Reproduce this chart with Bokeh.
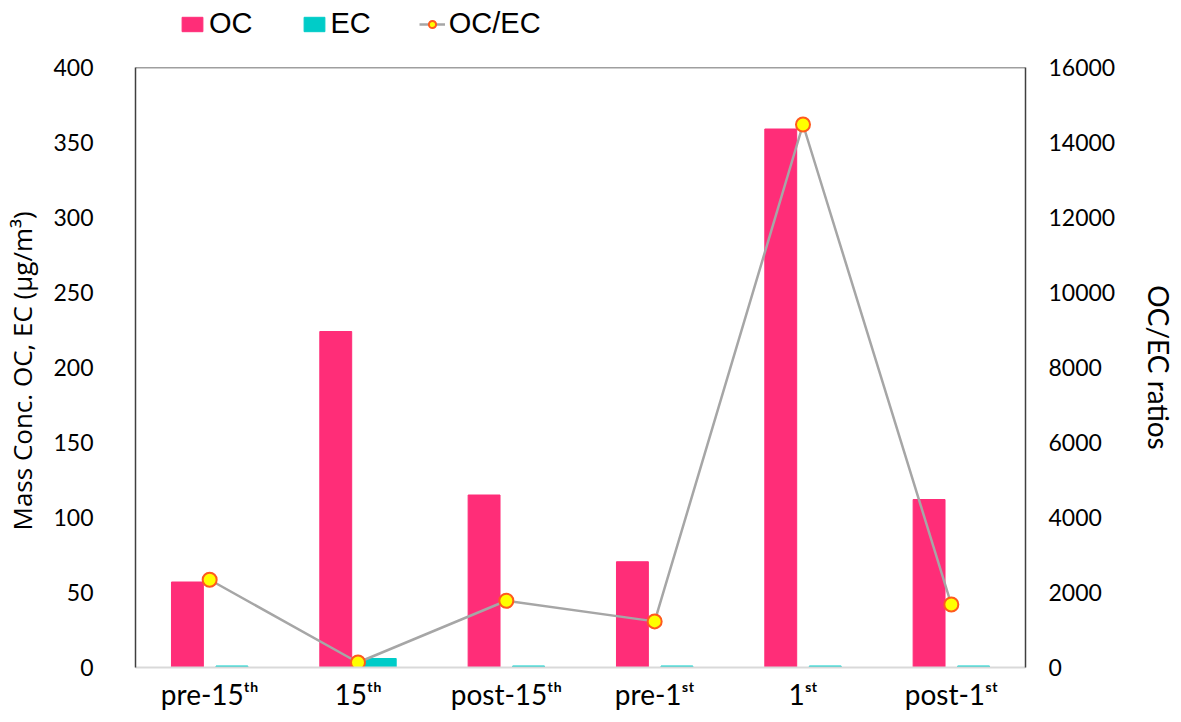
from bokeh.plotting import figure
from bokeh.layouts import column
from bokeh.models import (FactorRange, Range1d, LinearAxis, FixedTicker, Legend, LegendItem,
                          ColumnDataSource, Span)
from bokeh.transform import dodge
from bokeh.embed import file_html
from bokeh.resources import INLINE

categories = ["pre-15ᵗʰ", "15ᵗʰ", "post-15ᵗʰ", "pre-1ˢᵗ", "1ˢᵗ", "post-1ˢᵗ"]
oc_values = [57, 224, 115, 70.5, 359, 112]
ec_values = [1.0, 6.0, 1.0, 1.0, 1.0, 1.0]
ratio_values = [2340, 133, 1780, 1230, 14480, 1680]
left_ticks = [0, 50, 100, 150, 200, 250, 300, 350, 400]
right_ticks = [0, 2000, 4000, 6000, 8000, 10000, 12000, 14000, 16000]

src = ColumnDataSource(dict(cat=categories, oc=oc_values, ec=ec_values, ratio=ratio_values))

OC_COLOR = "#FF2D78"
EC_COLOR = "#00CCC8"
LINE_COLOR = "#A6A6A6"
MK_FILL = "#FFFF00"
MK_LINE = "#FF5A1E"

W = 1180
LEG_H = 45
FRAME_TOP = 67
FRAME_BOTTOM = 667
FRAME_LEFT = 135
FRAME_RIGHT = 1025
BOTTOM_BORDER = 52
H = FRAME_BOTTOM - LEG_H + BOTTOM_BORDER

# ---------------- main chart ----------------
p = figure(x_range=FactorRange(*categories, range_padding=0), y_range=Range1d(0, 400),
           width=W, height=H, output_backend="svg", toolbar_location=None,
           min_border_left=FRAME_LEFT, min_border_right=W - FRAME_RIGHT,
           min_border_top=FRAME_TOP - LEG_H, min_border_bottom=BOTTOM_BORDER)
p.extra_y_ranges = {"ratio": Range1d(0, 16000)}
p.outline_line_color = None
p.xgrid.grid_line_color = None
p.ygrid.grid_line_color = None

p.vbar(x=dodge("cat", -0.15, range=p.x_range), top="oc", width=0.215, source=src,
       fill_color=OC_COLOR, line_color=OC_COLOR)
p.vbar(x=dodge("cat", 0.15, range=p.x_range), top="ec", width=0.215, source=src,
       fill_color=EC_COLOR, line_color=EC_COLOR)
p.line(x="cat", y="ratio", source=src, y_range_name="ratio",
       line_color=LINE_COLOR, line_width=2.5)
p.scatter(x="cat", y="ratio", source=src, y_range_name="ratio", size=14,
          fill_color=MK_FILL, line_color=MK_LINE, line_width=2)

TICK_FONT = "Lato"

ya = p.yaxis[0]
ya.ticker = FixedTicker(ticks=left_ticks)
ya.axis_label = "Mass  Conc. OC, EC (µg/m³)"
ya.axis_label_text_font = "Open Sans"
ya.axis_label_text_font_size = "26px"
ya.axis_label_text_font_style = "normal"
ya.axis_label_text_color = "#000000"
ya.axis_label_standoff = 10
ya.major_label_text_font = TICK_FONT
ya.major_label_text_font_size = "23px"
ya.major_label_text_color = "#000000"
ya.major_label_standoff = 42
ya.major_tick_line_color = None
ya.major_tick_out = 0
ya.major_tick_in = 0
ya.minor_tick_line_color = None
ya.minor_tick_out = 0
ya.axis_line_color = "#404040"
ya.axis_line_width = 1.5

ra = LinearAxis(y_range_name="ratio", ticker=FixedTicker(ticks=right_ticks))
ra.axis_label = "OC/EC ratios"
ra.axis_label_text_font = TICK_FONT
ra.axis_label_text_font_size = "28px"
ra.axis_label_text_font_style = "normal"
ra.axis_label_text_color = "#000000"
ra.axis_label_standoff = 24
ra.major_label_text_font = TICK_FONT
ra.major_label_text_font_size = "23px"
ra.major_label_text_color = "#000000"
ra.major_label_standoff = 23
ra.major_tick_line_color = None
ra.major_tick_out = 0
ra.major_tick_in = 0
ra.minor_tick_line_color = None
ra.minor_tick_out = 0
ra.axis_line_color = "#404040"
ra.axis_line_width = 1.5
p.add_layout(ra, "right")

xa = p.xaxis[0]
xa.major_label_text_font = TICK_FONT
xa.major_label_text_font_size = "28px"
xa.major_label_text_color = "#000000"
xa.major_label_standoff = 9
xa.major_tick_line_color = None
xa.major_tick_out = 0
xa.major_tick_in = 0
xa.minor_tick_line_color = None
xa.axis_line_color = "#D9D9D9"
xa.axis_line_width = 2

p.add_layout(Span(location=400, dimension="width", line_color="#404040", line_width=1.5))

# ---------------- legend strip (same series, ranges chosen so marks stay off-canvas) ----------------
lg = figure(width=W, height=LEG_H, output_backend="svg", toolbar_location=None,
            x_axis_type=None, y_axis_type=None, min_border=0,
            x_range=FactorRange(*categories), y_range=Range1d(1e7, 1e7 + 1))
lg.outline_line_color = None
lg.xgrid.grid_line_color = None
lg.ygrid.grid_line_color = None
e_oc = lg.vbar(x="cat", top="oc", width=0.2, source=src, fill_color=OC_COLOR, line_color=OC_COLOR)
e_ec = lg.vbar(x="cat", top="ec", width=0.2, source=src, fill_color=EC_COLOR, line_color=EC_COLOR)
e_ln = lg.line(x="cat", y="ratio", source=src, line_color=LINE_COLOR, line_width=2.5)
e_mk = lg.scatter(x="cat", y="ratio", source=src, size=13, fill_color=MK_FILL,
                  line_color=MK_LINE, line_width=2)

legend = Legend(items=[LegendItem(label="OC", renderers=[e_oc]),
                       LegendItem(label="EC", renderers=[e_ec]),
                       LegendItem(label="OC/EC", renderers=[e_ln, e_mk])],
                orientation="horizontal", location=(44, 5),
                label_text_font="Liberation Sans", label_text_font_size="29px",
                label_text_color="#000000", glyph_width=26, glyph_height=18,
                label_standoff=4, spacing=48, padding=0, margin=0,
                border_line_color=None, background_fill_alpha=0)
lg.add_layout(legend)

layout = column(lg, p, spacing=0)
open("out.html", "w").write(file_html(layout, INLINE))
